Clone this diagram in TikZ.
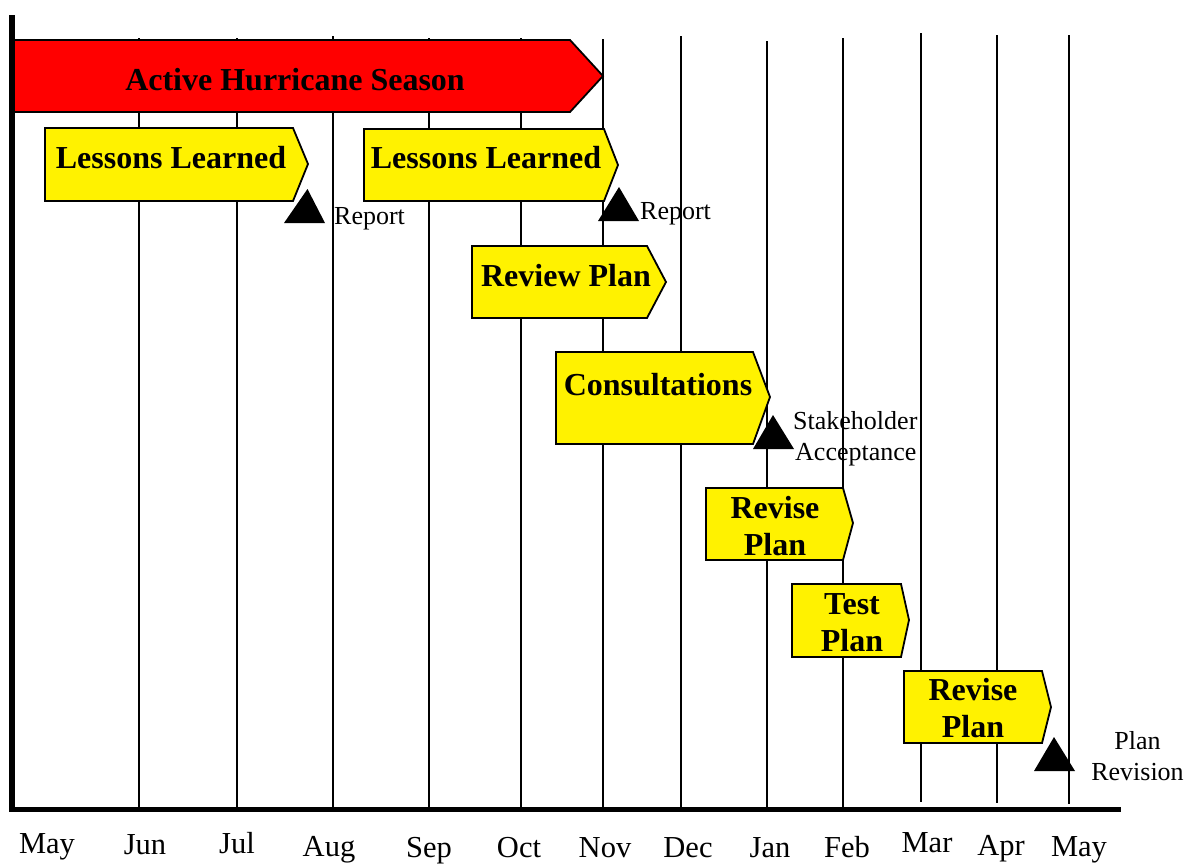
\documentclass[tikz,border=0pt]{standalone}
\usepackage{fontspec}
\setmainfont{Liberation Serif}

\tikzset{
  gridline/.style={line width=1.8pt},
  season/.style={draw=black,fill=red,line width=1.8pt},
  task/.style={draw=black,fill=yellow,line width=1.8pt},
  milestone/.style={fill=black},
  tasklabel/.style={anchor=base,inner sep=0pt,font=\fontsize{32}{37}\selectfont\bfseries},
  note/.style={anchor=base west,inner sep=0pt,font=\fontsize{26}{31}\selectfont},
  month/.style={anchor=base,inner sep=0pt,font=\fontsize{30.5}{36}\selectfont}
}

\begin{document}
\begin{tikzpicture}[x=1pt,y=-1pt]

\useasboundingbox (0,0) rectangle (1187,863);

%month lines
\draw[gridline] (139,38) -- (139,808);
\draw[gridline] (237,38) -- (237,808);
\draw[gridline] (333,36) -- (333,808);
\draw[gridline] (429,38) -- (429,808);
\draw[gridline] (521,38) -- (521,808);
\draw[gridline] (603,39) -- (603,808);
\draw[gridline] (681,36) -- (681,808);
\draw[gridline] (767,41) -- (767,808);
\draw[gridline] (843,38) -- (843,808);
\draw[gridline] (921,33) -- (921,802);
\draw[gridline] (997,35) -- (997,803);
\draw[gridline] (1069,35) -- (1069,804);

%axes
\draw[line width=5.5pt] (12,15) -- (12,809.5) -- (1121,809.5);

%hurricane season
\draw[season] (14,40) -- (570,40) -- (603,76) -- (570,112) -- (14,112) -- cycle;
\node[tasklabel] (season) at (295,90) {Active Hurricane Season};

%lessons learned, first
\draw[task] (45,128) -- (293,128) -- (308,164) -- (293,201) -- (45,201) -- cycle;
\node[tasklabel] (lessons1) at (171,168) {Lessons Learned};
%lessons learned, second
\draw[task] (364,129) -- (604,129) -- (618,165) -- (604,201) -- (364,201) -- cycle;
\node[tasklabel] (lessons2) at (486,168) {Lessons Learned};

%review plan
\draw[task] (472,246) -- (647,246) -- (666,282) -- (647,318) -- (472,318) -- cycle;
\node[tasklabel] (review) at (566,286) {Review Plan};

%consultations
\draw[task] (556,352) -- (753,352) -- (770,397) -- (753,444) -- (556,444) -- cycle;
\node[tasklabel] (consult) at (658,395) {Consultations};

%revise plan, first
\draw[task] (706,488) -- (843,488) -- (853,523) -- (843,560) -- (706,560) -- cycle;
\node[tasklabel] (revise1a) at (775,518) {Revise};
\node[tasklabel] (revise1b) at (775,555) {Plan};

%test plan
\draw[task] (792,584) -- (901,584) -- (909,620) -- (901,657) -- (792,657) -- cycle;
\node[tasklabel] (testa) at (852,614) {Test};
\node[tasklabel] (testb) at (852,651) {Plan};

%revise plan, second
\draw[task] (904,671) -- (1042,671) -- (1051,707) -- (1042,743) -- (904,743) -- cycle;
\node[tasklabel] (revise2a) at (973,700) {Revise};
\node[tasklabel] (revise2b) at (973,737) {Plan};

%milestones
\fill[milestone] (284,223) -- (307.5,189) -- (325,223) -- cycle;
\node[note] (report1) at (334,224) {Report};
\fill[milestone] (598,221) -- (619,187) -- (639,221) -- cycle;
\node[note] (report2) at (640,219) {Report};
\fill[milestone] (753,449) -- (773,415) -- (794,449) -- cycle;
\node[note] (accept1) at (793,429) {Stakeholder};
\node[note] (accept2) at (795,460) {Acceptance};
\fill[milestone] (1034,771) -- (1054,737) -- (1075,771) -- cycle;
\node[note,anchor=base] (revision1) at (1137.5,749) {Plan};
\node[note,anchor=base] (revision2) at (1137.5,780) {Revision};

%months
\node[month] (may1) at (47,853) {May};
\node[month] (jun) at (145,854) {Jun};
\node[month] (jul) at (237,853) {Jul};
\node[month] (aug) at (329,856) {Aug};
\node[month] (sep) at (429,857) {Sep};
\node[month] (oct) at (519,857) {Oct};
\node[month] (nov) at (605,857) {Nov};
\node[month] (dec) at (688,857) {Dec};
\node[month] (jan) at (770,857) {Jan};
\node[month] (feb) at (847,857) {Feb};
\node[month] (mar) at (927,852) {Mar};
\node[month] (apr) at (1001,855) {Apr};
\node[month] (may2) at (1079,856) {May};

\end{tikzpicture}
\end{document}
